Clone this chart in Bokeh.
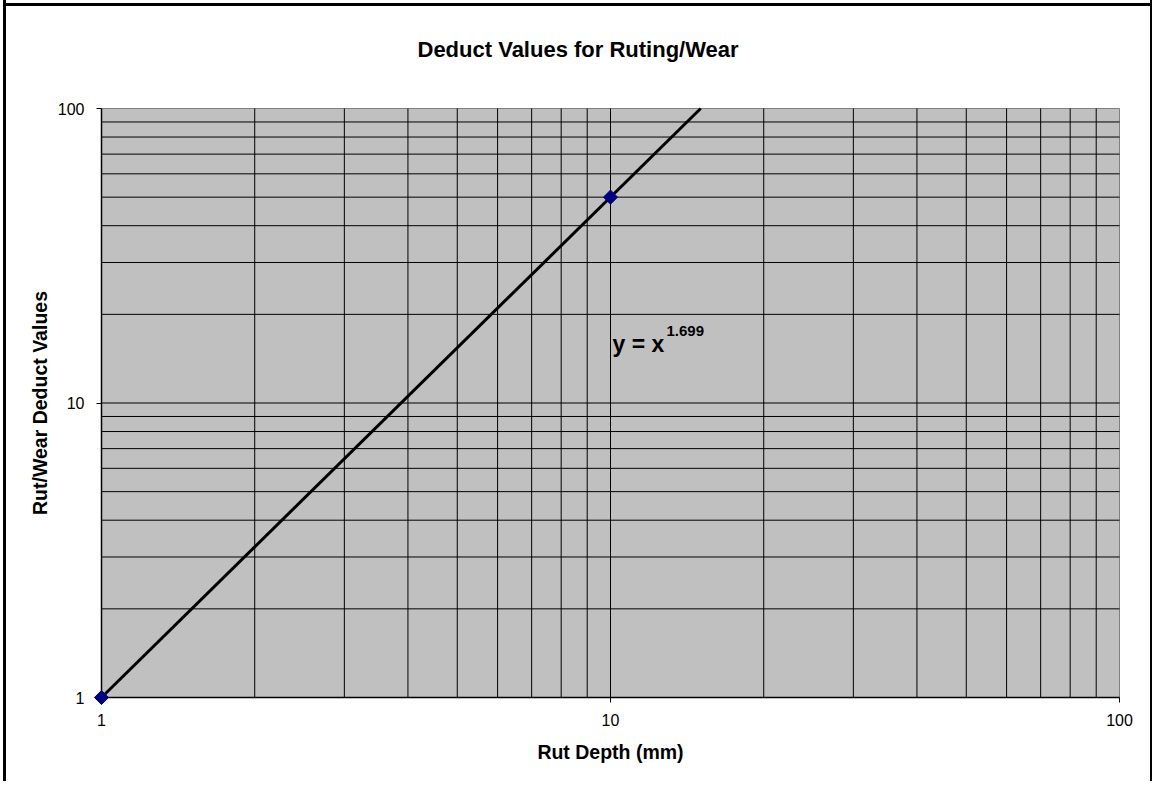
import numpy as np
from bokeh.plotting import figure
from bokeh.models import FixedTicker, Label, Range1d
from bokeh.embed import file_html
from bokeh.resources import INLINE

# ---- data ----
rut_depth = [1, 10]            # mm
deduct_value = [1, 50]
x_ticks = [1, 10, 100]
y_ticks = [1, 10, 100]
tick_labels = ["1", "10", "100"]
minor_ticks = [2, 3, 4, 5, 6, 7, 8, 9, 20, 30, 40, 50, 60, 70, 80, 90]
title_text = "Deduct Values for Ruting/Wear"
x_label = "Rut Depth (mm)"
y_label = "Rut/Wear Deduct Values"

# power trendline fitted to the data (log-log regression)
b, log_a = np.polyfit(np.log10(rut_depth), np.log10(deduct_value), 1)
a = 10 ** log_a
x_min, x_max = x_ticks[0], x_ticks[-1]
y_min, y_max = y_ticks[0], y_ticks[-1]
trend_x = np.array([x_min, min(x_max, (y_max / a) ** (1 / b))], dtype=float)
trend_y = a * trend_x ** b
eq_text = "y = x"
eq_exp = f"{b:.3f}"

FONT = "Liberation Sans"
PAD = 10                      # px of frame padding around the plot area
PW, PH = 1018, 589            # plot-area size in px
px = PAD / (PW / 2)           # padding in decades
py = PAD / (PH / 2)

p = figure(
    x_axis_type="log", y_axis_type="log",
    x_range=Range1d(x_min * 10 ** -px, x_max * 10 ** px),
    y_range=Range1d(y_min * 10 ** -py, y_max * 10 ** py),
    frame_width=PW + 2 * PAD, frame_height=PH + 2 * PAD,
    min_border_left=85, min_border_top=98, min_border_right=21, min_border_bottom=74,
    output_backend="svg", toolbar_location=None,
    background_fill_color=None, border_fill_color=None,
    outline_line_color=None,
)
p.styles = {
    "margin-left": "6px",
    "margin-top": "0px",
    "background": "linear-gradient(black, black) 0 3px / 100% 3px no-repeat",
    "box-shadow": "-3px 0 0 0 black, 2px 0 0 0 black",
}

# plot area background and outline
p.quad(left=[x_min], right=[x_max], bottom=[y_min], top=[y_max],
       fill_color="#C0C0C0", line_color="#808080", line_width=1)

# gridlines
grid_x = minor_ticks + x_ticks[1:-1]
grid_y = minor_ticks + y_ticks[1:-1]
p.segment(x0=grid_x, x1=grid_x, y0=[y_min] * len(grid_x), y1=[y_max] * len(grid_x),
          line_color="black", line_width=1)
p.segment(x0=[x_min] * len(grid_y), x1=[x_max] * len(grid_y), y0=grid_y, y1=grid_y,
          line_color="black", line_width=1)
p.xgrid.visible = False
p.ygrid.visible = False

# axis lines along the plot-area's left and bottom edges
p.segment(x0=[x_min, x_min], x1=[x_max, x_min], y0=[y_min, y_min], y1=[y_min, y_max],
          line_color="black", line_width=1.5)

for ax, ticks in ((p.xaxis[0], x_ticks), (p.yaxis[0], y_ticks)):
    ax.ticker = FixedTicker(ticks=ticks)
    ax.major_label_overrides = {t: l for t, l in zip(ticks, tick_labels)}
    ax.major_label_text_font = FONT
    ax.major_label_text_font_size = "16px"
    ax.major_label_text_color = "black"
    ax.axis_label_text_font = FONT
    ax.axis_label_text_font_size = "19.5px"
    ax.axis_label_text_font_style = "bold"
    ax.axis_label_text_color = "black"
    ax.axis_line_color = None
    ax.major_tick_line_color = "black"
    ax.major_tick_in = PAD
    ax.major_tick_out = -5
    ax.minor_tick_line_color = None

p.xaxis.axis_label = x_label
p.yaxis.axis_label = y_label
p.xaxis.major_label_standoff = 6
p.yaxis.major_label_standoff = 7
p.xaxis.axis_label_standoff = 12
p.yaxis.axis_label_standoff = 4

p.line(trend_x, trend_y, line_color="black", line_width=3)
p.scatter(rut_depth, deduct_value, marker="square", angle=np.pi / 4, size=10,
          fill_color="#000080", line_color="#000080", level="overlay")

# trendline equation
p.add_layout(Label(x=521, y=364, x_units="screen", y_units="screen", text=eq_text,
                   text_font=FONT, text_font_size="23px", text_font_style="bold",
                   text_color="black", text_baseline="alphabetic", text_align="left"))
p.add_layout(Label(x=575, y=377, x_units="screen", y_units="screen", text=eq_exp,
                   text_font=FONT, text_font_size="15px", text_font_style="bold",
                   text_color="black", text_baseline="alphabetic", text_align="left"))

# chart title
p.title.text = title_text
p.title.align = "left"
p.title.offset = 326
p.title.vertical_align = "top"
p.title.standoff = 69
p.title.text_font = FONT
p.title.text_font_size = "22px"
p.title.text_font_style = "bold"
p.title.text_color = "black"

open("out.html", "w").write(file_html(p, INLINE))
